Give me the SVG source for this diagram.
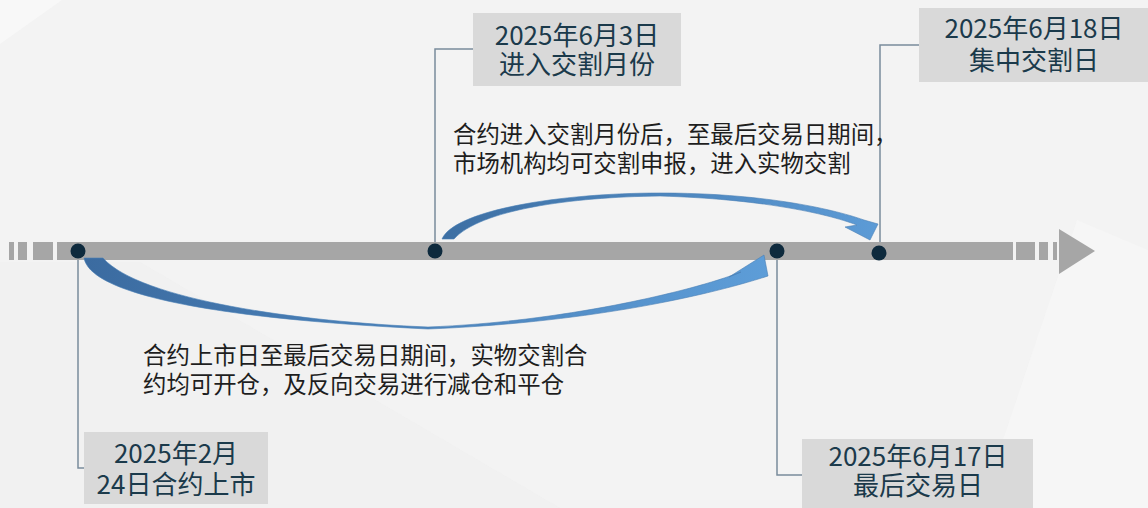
<svg xmlns="http://www.w3.org/2000/svg" width="1148" height="508" viewBox="0 0 1148 508">
<defs>
<linearGradient id="gUp" x1="0" y1="0" x2="1" y2="0">
<stop offset="0" stop-color="#3d6fa3"/>
<stop offset="1" stop-color="#5c9bd6"/>
</linearGradient>
<linearGradient id="gLow" x1="0" y1="0" x2="1" y2="0">
<stop offset="0" stop-color="#3b6ba0"/>
<stop offset="1" stop-color="#5d9dd8"/>
</linearGradient>
<style>
.leader{fill:none;stroke:#7a8c9c;stroke-width:1.5}
.bar{fill:#a6a6a6}
.dot{fill:#0e2a3d}
.box{fill:#d9d9d9}
.arrow{stroke:#4a7fb5;stroke-width:0.6;stroke-linejoin:miter}
.bt{font-family:"Noto Sans CJK SC","Noto Sans",sans-serif;font-size:26px;fill:#1b3a4b;text-anchor:middle}
.pt{font-family:"Noto Sans CJK SC","Noto Sans",sans-serif;font-size:23.4px;fill:#1e1e1e}
</style>
</defs>
<rect x="0" y="0" width="1148" height="508" fill="#f3f3f3"/>
<polygon points="0,0 62,0 0,44" fill="#f8f8f8"/>
<polygon points="0,262 140,262 560,508 0,508" fill="#efefef" opacity="0.7"/>
<polygon points="1077,220 1148,250 1148,508 980,508" fill="#f6f6f6" opacity="0.8"/>

<g id="connectors">
<path class="leader" d="M78 251 V468 H84"/>
<path class="leader" d="M435 251 V49 H473"/>
<path class="leader" d="M880 253 V45 H919"/>
<path class="leader" d="M777 251 V475 H802"/>
</g>

<g id="timeline">
<rect class="bar" x="9" y="242" width="5" height="18"/>
<rect class="bar" x="18" y="242" width="9" height="18"/>
<rect class="bar" x="33" y="242" width="20" height="18"/>
<rect class="bar" x="57" y="242" width="956" height="18"/>
<rect class="bar" x="1016" y="242" width="19" height="18"/>
<rect class="bar" x="1039" y="242" width="9" height="18"/>
<rect class="bar" x="1053" y="242" width="4" height="18"/>
<polygon class="bar" points="1059,229 1095,251 1059,274"/>
</g>

<g id="arrow-upper">
<path class="arrow" fill="url(#gUp)" d="M442 239 C455 210 560 193 660 193 C760 193 830 208 864 220 L878 224 L870 240 L845 227 L857 225 C825 213 760 199 660 196 C570 197 480 210 454 239 Z"/>
</g>
<g id="arrow-lower">
<path class="arrow" fill="url(#gLow)" d="M84 258 C90 292 200 318 428 329 C580 323 700 298 768 276 L764 255 L729 277 L741 272 C690 292 560 322 428 327 C300 322 140 300 103 258 Z"/>
</g>

<g id="dots">
<circle class="dot" cx="78" cy="251" r="7.5"/>
<circle class="dot" cx="435" cy="251" r="7.5"/>
<circle class="dot" cx="777" cy="251" r="7.5"/>
<circle class="dot" cx="879" cy="253" r="7.5"/>
</g>

<g id="node-listing">
<rect class="box" x="84" y="432" width="184" height="72"/>
<text class="bt"><tspan x="176" y="463">2025年2月</tspan><tspan x="176" y="494">24日合约上市</tspan></text>
</g>

<g id="node-delivery-month">
<rect class="box" x="473" y="13" width="208" height="73"/>
<text class="bt"><tspan x="577" y="45">2025年6月3日</tspan><tspan x="577" y="74">进入交割月份</tspan></text>
</g>

<g id="node-last-trading">
<rect class="box" x="802" y="439" width="231" height="69"/>
<text class="bt"><tspan x="918" y="466">2025年6月17日</tspan><tspan x="918" y="495">最后交易日</tspan></text>
</g>

<g id="node-delivery-day">
<rect class="box" x="919" y="8" width="229" height="74"/>
<text class="bt"><tspan x="1034" y="38">2025年6月18日</tspan><tspan x="1034" y="70">集中交割日</tspan></text>
</g>

<g id="note-upper">
<text class="pt"><tspan x="453" y="143">合约进入交割月份后，至最后交易日期间，</tspan><tspan x="453" y="172">市场机构均可交割申报，进入实物交割</tspan></text>
</g>
<g id="note-lower">
<text class="pt"><tspan x="143" y="364">合约上市日至最后交易日期间，实物交割合</tspan><tspan x="143" y="393">约均可开仓，及反向交易进行减仓和平仓</tspan></text>
</g>
</svg>
